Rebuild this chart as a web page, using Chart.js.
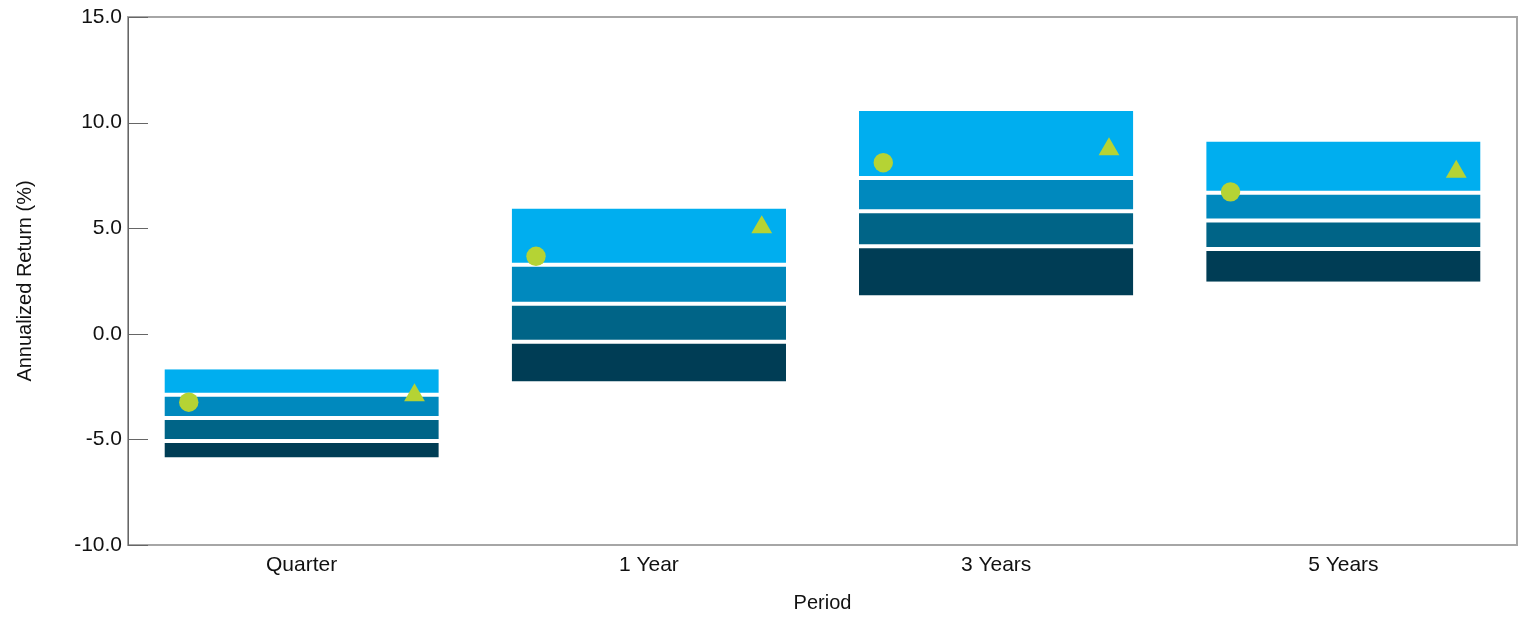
<!DOCTYPE html>
<html>
<head>
<meta charset="utf-8">
<script src="https://cdn.jsdelivr.net/npm/chart.js@4"></script>
<style>
  html, body { margin: 0; padding: 0; background: #fff; overflow: hidden; }
  /* a little wider than the window: chart.js keeps ~12px spare on the right */
  #wrap { width: 1529px; height: 618px; position: relative; }
</style>
</head>
<body>
<div id="wrap"><canvas id="chart"></canvas></div>
<script>
// Data
const periods = ["Quarter", "1 Year", "3 Years", "5 Years"];
const p05 = [-1.68, 5.93, 10.55, 9.11];
const p25 = [-2.89, 3.27, 7.38, 6.68];
const p50 = [-3.99, 1.42, 5.80, 5.36];
const p75 = [-5.08, -0.38, 4.15, 4.02];
const p95 = [-5.86, -2.26, 1.81, 2.47];
const fund = [-3.24, 3.67, 8.10, 6.72];
const benchmark = [-2.91, 5.05, 8.74, 7.67];
const yTicks = [-10, -5, 0, 5, 10, 15];

// style
const bandColors = ["#00AEEF", "#0089BE", "#006487", "#003D55"];
const markerColor = "#B5D334";
const markerShift = 0.325; // markers sit left / right inside each band
const FONT = "'Liberation Sans', Arial, sans-serif";

function band(lo, hi, i, border) {
  return {
    type: "bar",
    data: periods.map((_, k) => [lo[k], hi[k]]),
    backgroundColor: bandColors[i],
    borderColor: "#ffffff",
    borderWidth: border,
    borderSkipped: false,
    grouped: false,
    barPercentage: 0.79,
    categoryPercentage: 1,
    order: 2,
  };
}

// inward ticks on the y axis + frame
const framePlugin = {
  id: "frame",
  afterDraw(chart) {
    const { ctx, chartArea: a, scales } = chart;
    ctx.save();
    ctx.strokeStyle = "#a6a6a6";
    ctx.lineWidth = 2;
    ctx.strokeRect(a.left, a.top, a.right - a.left, a.bottom - a.top);
    ctx.strokeStyle = "#666";
    ctx.lineWidth = 1;
    ctx.beginPath();
    ctx.moveTo(a.left + 0.5, a.top);
    ctx.lineTo(a.left + 0.5, a.bottom);
    yTicks.forEach(v => {
      const y = Math.round(scales.y.getPixelForValue(v)) + 0.5;
      ctx.moveTo(a.left, y);
      ctx.lineTo(a.left + 20, y);
    });
    ctx.stroke();
    ctx.restore();
  },
};

new Chart(document.getElementById("chart"), {
  type: "bar",
  data: {
    labels: periods,
    datasets: [
      band(p25, p05, 0, { top: 0, bottom: 2, left: 0, right: 0 }),
      band(p50, p25, 1, { top: 2, bottom: 2, left: 0, right: 0 }),
      band(p75, p50, 2, { top: 2, bottom: 2, left: 0, right: 0 }),
      band(p95, p75, 3, { top: 2, bottom: 0, left: 0, right: 0 }),
      {
        type: "line",
        xAxisID: "xp",
        data: fund.map((v, k) => ({ x: k - markerShift, y: v })),
        showLine: false,
        pointStyle: "circle",
        pointRadius: 9.7,
        pointBackgroundColor: markerColor,
        pointBorderWidth: 0,
        order: 1,
      },
      {
        type: "line",
        xAxisID: "xp",
        data: benchmark.map((v, k) => ({ x: k + markerShift, y: v })),
        showLine: false,
        pointStyle: "triangle",
        pointRadius: 12,
        pointBackgroundColor: markerColor,
        pointBorderWidth: 0,
        order: 1,
      },
    ],
  },
  options: {
    responsive: true,
    maintainAspectRatio: false,
    animation: false,
    layout: { padding: { top: 17, right: 4.5, left: 0, bottom: 0 } },
    plugins: { legend: { display: false }, tooltip: { enabled: false } },
    scales: {
      x: {
        type: "category",
        grid: { display: false, drawTicks: false },
        border: { display: false },
        ticks: { color: "#111", font: { family: FONT, size: 21 }, padding: 8 },
        title: {
          display: true, text: "Period", color: "#111",
          font: { family: FONT, size: 20 }, padding: { top: 0, bottom: 3 },
        },
        afterFit(s) { s.height = 73; s.paddingLeft = 0; s.paddingRight = 0; },
      },
      xp: {
        type: "linear",
        display: false,
        offset: false,
        grid: { offset: false },
        min: -0.5,
        max: periods.length - 0.5,
      },
      y: {
        min: -10,
        max: 15,
        stacked: false,
        grid: { display: false, drawTicks: false },
        border: { display: false },
        afterBuildTicks(s) { s.ticks = yTicks.map(v => ({ value: v })); },
        ticks: {
          color: "#111", font: { family: FONT, size: 21 }, padding: 6,
          callback: v => v.toFixed(1),
        },
        title: {
          display: true, text: "Annualized Return (%)", color: "#111",
          font: { family: FONT, size: 20 }, padding: { top: 13, bottom: 0 },
        },
        afterFit(s) { s.width = 128; s.paddingTop = 0; s.paddingBottom = 0; },
      },
    },
  },
  plugins: [framePlugin],
});
</script>
</body>
</html>
